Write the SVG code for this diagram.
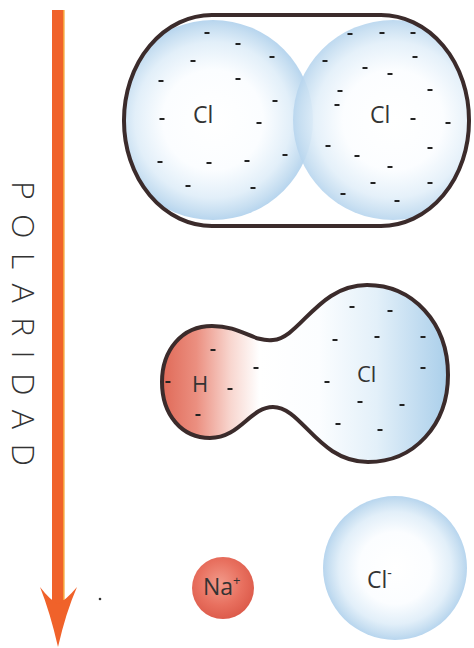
<svg xmlns="http://www.w3.org/2000/svg" width="474" height="648" viewBox="0 0 474 648">
  <defs>
    <radialGradient id="blueSphere" cx="0.5" cy="0.5" r="0.5">
      <stop offset="0" stop-color="#ffffff"/>
      <stop offset="0.5" stop-color="#fbfdff"/>
      <stop offset="0.78" stop-color="#e2eff9"/>
      <stop offset="0.93" stop-color="#c6def1"/>
      <stop offset="1" stop-color="#b7d5ee"/>
    </radialGradient>
    <radialGradient id="redSphere" cx="0.45" cy="0.42" r="0.6">
      <stop offset="0" stop-color="#f29a8a"/>
      <stop offset="0.6" stop-color="#e8705f"/>
      <stop offset="1" stop-color="#dc5a4a"/>
    </radialGradient>
    <linearGradient id="hclFill" gradientUnits="userSpaceOnUse" x1="162" y1="0" x2="448" y2="0">
      <stop offset="0" stop-color="#e06a58"/>
      <stop offset="0.12" stop-color="#eb8f80"/>
      <stop offset="0.24" stop-color="#f8d6cf"/>
      <stop offset="0.34" stop-color="#ffffff"/>
      <stop offset="0.55" stop-color="#fbfdff"/>
      <stop offset="0.75" stop-color="#e3f0f9"/>
      <stop offset="0.92" stop-color="#bcd9ef"/>
      <stop offset="1" stop-color="#aacfea"/>
    </linearGradient>
    <clipPath id="cl2Clip">
      <rect x="124" y="15" width="345" height="211" rx="88" ry="105"/>
    </clipPath>
    <style>
      .outline { fill: none; stroke: #3b2b2b; stroke-width: 4; stroke-linejoin: round; }
      .label { font-family: "Open Sans", "Noto Sans", "DejaVu Sans", sans-serif; fill: #333333; }
      .dash { fill: #222222; }
    </style>
    <rect id="d" class="dash" x="-2.5" y="-1" width="5" height="2"/>
  </defs>

  <rect width="474" height="648" fill="#ffffff"/>

  <!-- polarity axis -->
  <g id="axis">
    <rect x="52" y="10" width="12" height="596" fill="#f0622a"/>
    <rect x="63" y="10" width="1.6" height="590" fill="#f6a23a"/>
    <path d="M 40 587 Q 50 600 58 604 Q 66 600 77 587 Q 66 612 58 647 Q 50 612 40 587 Z" fill="#f0622a"/>
    <text class="label" transform="translate(12,181) rotate(90)" font-size="32" font-weight="300" textLength="285" lengthAdjust="spacing">POLARIDAD</text>
  </g>

  <!-- Cl2 molecule -->
  <g id="cl2">
    <g clip-path="url(#cl2Clip)">
      <circle cx="213" cy="120" r="100" fill="url(#blueSphere)"/>
      <circle cx="393" cy="120" r="100" fill="url(#blueSphere)" fill-opacity="0.9"/>
    </g>
    <rect class="outline" x="124" y="15" width="345" height="211" rx="88" ry="105"/>
    <text class="label" x="193" y="123" font-size="23">Cl</text>
    <text class="label" x="370" y="123" font-size="23">Cl</text>
    <g>
      <use href="#d" x="207" y="33"/><use href="#d" x="238" y="44"/><use href="#d" x="272" y="57"/>
      <use href="#d" x="193" y="61"/><use href="#d" x="161" y="81"/><use href="#d" x="238" y="79"/>
      <use href="#d" x="275" y="101"/><use href="#d" x="162" y="119"/><use href="#d" x="259" y="123"/>
      <use href="#d" x="285" y="155"/><use href="#d" x="160" y="162"/><use href="#d" x="209" y="163"/>
      <use href="#d" x="247" y="161"/><use href="#d" x="188" y="186"/><use href="#d" x="253" y="188"/>
      <use href="#d" x="350" y="34"/><use href="#d" x="382" y="33"/><use href="#d" x="413" y="33"/>
      <use href="#d" x="325" y="61"/><use href="#d" x="415" y="57"/><use href="#d" x="365" y="68"/>
      <use href="#d" x="390" y="74"/><use href="#d" x="340" y="91"/><use href="#d" x="430" y="90"/>
      <use href="#d" x="337" y="105"/><use href="#d" x="413" y="119"/><use href="#d" x="448" y="123"/>
      <use href="#d" x="328" y="146"/><use href="#d" x="430" y="148"/><use href="#d" x="357" y="156"/>
      <use href="#d" x="390" y="167"/><use href="#d" x="373" y="183"/><use href="#d" x="430" y="183"/>
      <use href="#d" x="343" y="194"/><use href="#d" x="397" y="201"/>
    </g>
  </g>

  <!-- HCl molecule -->
  <g id="hcl">
    <path d="M 273 340 C 252 342 242 326 212 326 C 182 326 162 350 162 382 C 162 415 182 438 210 438 C 240 438 250 407 273 407 C 302 407 318 462 368 462 C 414 462 448 425 448 375 C 448 322 412 285 367 285 C 318 285 300 338 273 340 Z" fill="url(#hclFill)"/>
    <path class="outline" d="M 273 340 C 252 342 242 326 212 326 C 182 326 162 350 162 382 C 162 415 182 438 210 438 C 240 438 250 407 273 407 C 302 407 318 462 368 462 C 414 462 448 425 448 375 C 448 322 412 285 367 285 C 318 285 300 338 273 340 Z"/>
    <text class="label" x="192" y="392" font-size="22">H</text>
    <text class="label" x="357" y="382" font-size="22">Cl</text>
    <g>
      <use href="#d" x="213" y="350"/><use href="#d" x="168" y="382"/><use href="#d" x="230" y="389"/>
      <use href="#d" x="198" y="415"/><use href="#d" x="256" y="368"/>
      <use href="#d" x="352" y="307"/><use href="#d" x="390" y="311"/><use href="#d" x="335" y="340"/>
      <use href="#d" x="377" y="337"/><use href="#d" x="423" y="337"/><use href="#d" x="423" y="368"/>
      <use href="#d" x="327" y="382"/><use href="#d" x="360" y="402"/><use href="#d" x="402" y="405"/>
      <use href="#d" x="338" y="424"/><use href="#d" x="380" y="430"/>
    </g>
  </g>

  <!-- Na+ ion -->
  <g id="na">
    <circle cx="223" cy="588" r="31" fill="url(#redSphere)"/>
    <text class="label" x="203" y="595" font-size="23">Na<tspan font-size="13" dy="-10">+</tspan></text>
  </g>

  <!-- Cl- ion -->
  <g id="cl-ion">
    <circle cx="395" cy="568" r="72" fill="url(#blueSphere)"/>
    <text class="label" x="367" y="588" font-size="23">Cl<tspan font-size="14" dy="-10">-</tspan></text>
  </g>

  <circle cx="100" cy="599" r="1.3" fill="#333333"/>
</svg>
